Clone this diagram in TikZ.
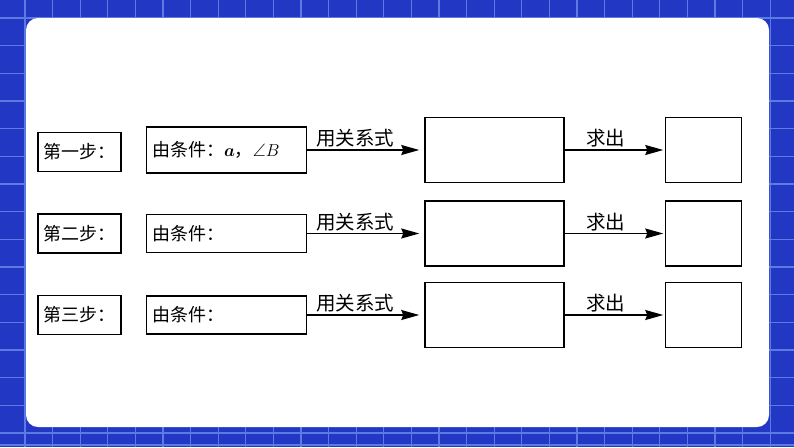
\documentclass[tikz,border=0pt]{standalone}
\usepackage{amsmath,amssymb}
\usepackage{fontspec}
\newfontfamily\cjk{Noto Sans CJK SC}
\usetikzlibrary{arrows.meta,positioning,calc}
\definecolor{bgblue}{RGB}{34,56,196}
\definecolor{gridblue}{RGB}{92,122,228}

\begin{document}
\begin{tikzpicture}[
x=1pt, y=-1pt,
node distance=41pt and 24pt,
every node/.style={font=\cjk\fontsize{18}{20}\selectfont},
stepbox/.style={draw, line width=1.5pt, minimum width=83pt, minimum height=39pt, inner sep=0pt},
condbox/.style={draw, line width=1.5pt, text width=149pt, inner xsep=5.5pt, inner ysep=0pt, minimum height=38pt, align=left},
bigbox/.style={draw, line width=1.5pt, minimum width=139pt, minimum height=65pt, inner sep=0pt},
smallbox/.style={draw, line width=1.5pt, minimum width=76pt, minimum height=65pt, inner sep=0pt},
arrow/.style={-{Stealth[length=18pt, width=10pt, inset=2pt]}, line width=1.5pt},
lbl/.style={above, inner sep=2pt, font=\cjk\fontsize{19.5}{20}\selectfont},
gridline/.style={gridblue, line width=1.2pt}
]
\useasboundingbox (0,0) rectangle (794,447);

% -------- Background --------
\fill[bgblue] (0,0) rectangle (794,447);
\foreach \gx in {0,...,27} \draw[gridline] ({25+27.6*\gx},0) -- ({25+27.6*\gx},447);
\foreach \gy in {0,...,15} \draw[gridline] (0,{18+27.67*\gy}) -- (794,{18+27.67*\gy});
\draw[gridline] (0,445) -- (794,445);
\fill[white, rounded corners=12pt] (26,18) rectangle (769,427);

% -------- Step 1 --------
\node[stepbox] (step1) at (79.5,152) {第一步：};
\node[condbox, minimum height=46pt, yshift=2pt, right=of step1] (cond1) {由条件：$\boldsymbol{a}$，$\angle B$};
\node[bigbox, right=117pt of cond1] (big1) {};
\node[smallbox, right=100pt of big1] (small1) {};

\draw[arrow, shorten >=5pt] (cond1) -- node[lbl, pos=.41] {用关系式} (big1);
\draw[arrow, shorten >=1.5pt] (big1) -- node[lbl, pos=.41] {求出} (small1);

% -------- Step 2 --------
\node[stepbox, below=of step1] (step2) {第二步：};
\node[condbox, right=of step2] (cond2) {由条件：};
\node[bigbox, right=117pt of cond2] (big2) {};
\node[smallbox, right=100pt of big2] (small2) {};

\draw[arrow, shorten >=5pt] (cond2) -- node[lbl, pos=.41] {用关系式} (big2);
\draw[arrow, shorten >=1.5pt] (big2) -- node[lbl, pos=.41] {求出} (small2);

% -------- Step 3 --------
\node[stepbox, below=of step2] (step3) {第三步：};
\node[condbox, right=of step3] (cond3) {由条件：};
\node[bigbox, right=117pt of cond3] (big3) {};
\node[smallbox, right=100pt of big3] (small3) {};

\draw[arrow, shorten >=5pt] (cond3) -- node[lbl, pos=.41] {用关系式} (big3);
\draw[arrow, shorten >=1.5pt] (big3) -- node[lbl, pos=.41] {求出} (small3);

\end{tikzpicture}
\end{document}
